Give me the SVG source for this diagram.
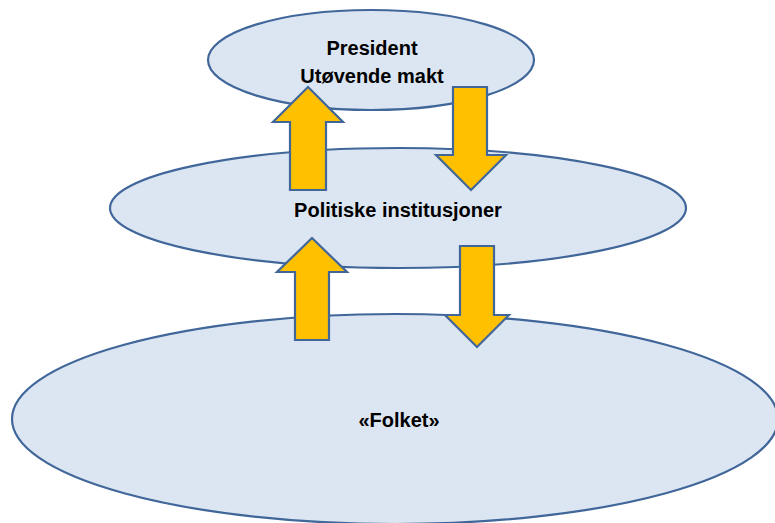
<svg xmlns="http://www.w3.org/2000/svg" width="775" height="523" viewBox="0 0 775 523">
<style>
.node{fill:#dce6f2;stroke:#41679a;stroke-width:2.2}
.arrow{fill:#ffc000;stroke:#41679a;stroke-width:2.2;stroke-linejoin:miter}
.lbl{font-family:"Liberation Sans",Arial,sans-serif;font-weight:bold;font-size:20px;fill:#000;text-anchor:middle}
</style>
<rect width="775" height="523" fill="#fff"/>
<g id="folket">
<ellipse class="node" cx="395" cy="419" rx="383" ry="105"/>
</g>
<g id="politiske">
<ellipse class="node" cx="398" cy="208" rx="288" ry="60"/>
</g>
<g id="president">
<ellipse class="node" cx="371" cy="60" rx="163" ry="50"/>
</g>
<g id="connectors">
<polygon class="arrow" points="308,87 343,122 326,122 326,190 290,190 290,122 273,122"/>
<polygon class="arrow" points="453,87 487,87 487,155 506,155 471,190 436,155 453,155"/>
<polygon class="arrow" points="312,238 347,272 329,272 329,340 295,340 295,272 277,272"/>
<polygon class="arrow" points="460,246 494,246 494,315 509,315 477,347 445,315 460,315"/>
</g>
<g id="labels">
<text class="lbl" x="372" y="55">President</text>
<text class="lbl" x="372" y="83">Utøvende makt</text>
<text class="lbl" x="398" y="217">Politiske institusjoner</text>
<text class="lbl" x="399" y="427">«Folket»</text>
</g>
</svg>
